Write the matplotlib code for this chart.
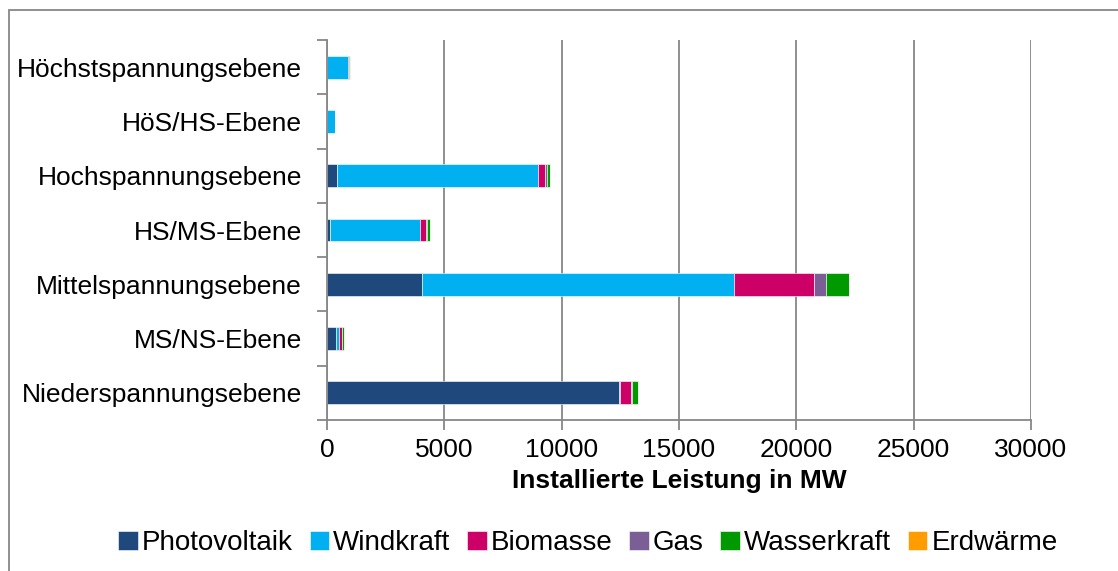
import numpy as np
import matplotlib.pyplot as plt
from matplotlib.patches import Rectangle

plt.rcParams['font.family'] = ['Liberation Sans', 'DejaVu Sans']

ebenen = ["Höchstspannungsebene", "HöS/HS-Ebene", "Hochspannungsebene", "HS/MS-Ebene",
          "Mittelspannungsebene", "MS/NS-Ebene", "Niederspannungsebene"]

photovoltaik = [0, 0, 410, 140, 4060, 400, 12450]
windkraft = [910, 350, 8580, 3810, 13280, 110, 40]
biomasse = [40, 10, 320, 280, 3420, 140, 480]
gas = [0, 0, 80, 20, 500, 0, 20]
wasserkraft = [10, 0, 120, 120, 980, 80, 270]
erdwaerme = [0, 0, 0, 0, 0, 0, 0]

series = [("Photovoltaik", photovoltaik, "#1F497D"),
          ("Windkraft", windkraft, "#00B0F0"),
          ("Biomasse", biomasse, "#CC0066"),
          ("Gas", gas, "#7B5E96"),
          ("Wasserkraft", wasserkraft, "#009A00"),
          ("Erdwärme", erdwaerme, "#FF9C00")]

fig = plt.figure(figsize=(11.18, 5.71), dpi=100)
ax = fig.add_axes([327 / 1118, 1 - 420 / 571, 704 / 1118, 380 / 571])

y = np.arange(len(ebenen))
left = np.zeros(len(ebenen))
for name, vals, color in series:
    ax.barh(y, vals, left=left, height=0.42, color=color, label=name,
            edgecolor="white", linewidth=0.4)
    left += np.array(vals)

grey = "#878787"
ax.set_xlim(0, 30000)
ax.set_ylim(len(ebenen) - 0.5, -0.5)
ax.set_xticks(np.arange(0, 30001, 5000))
ax.set_yticks(y)
ax.set_yticklabels(ebenen)
ax.set_yticks(np.arange(-0.5, len(ebenen)), minor=True)
ax.tick_params(axis="y", which="major", length=0, pad=18, labelsize=19)
ax.tick_params(axis="y", which="minor", length=7, width=1.3, color=grey)
ax.tick_params(axis="x", length=7, width=1.3, color=grey, pad=6, labelsize=19)
ax.grid(axis="x", color=grey, linewidth=1.3)
ax.set_axisbelow(True)
for s in ["top", "right"]:
    ax.spines[s].set_visible(False)
for s in ["left", "bottom"]:
    ax.spines[s].set_color(grey)
    ax.spines[s].set_linewidth(1.3)
ax.set_xlabel("Installierte Leistung in MW", fontsize=19, fontweight="bold", labelpad=5)

handles, labels = ax.get_legend_handles_labels()
fig.legend(handles, labels, loc="center", bbox_to_anchor=(588 / 1118, 1 - 543 / 571),
           ncol=6, frameon=False, fontsize=20, handlelength=0.7, handleheight=0.7,
           handletextpad=0.15, columnspacing=0.6)

fig.patches.append(Rectangle((9 / 1118, -0.1), 1.2, 1.1 - 10 / 571,
                             transform=fig.transFigure, fill=False,
                             edgecolor=grey, linewidth=1.3))

fig.savefig("out.png", dpi=100)
